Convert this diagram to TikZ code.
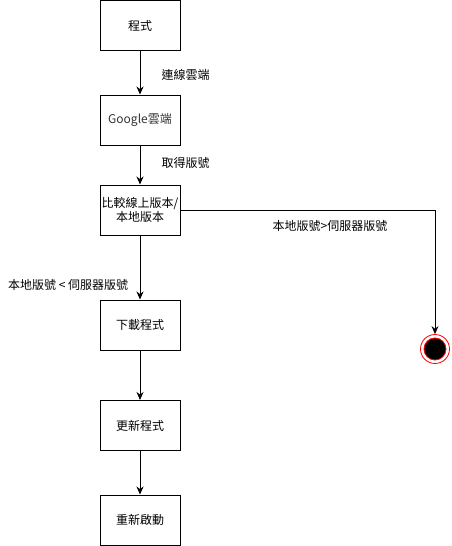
\documentclass[tikz,border=0pt]{standalone}
\usepackage{fontspec}
\newfontfamily\cjk{Noto Sans CJK TC}
\usetikzlibrary{arrows.meta}
\begin{document}
\begin{tikzpicture}[x=1pt,y=-1pt,
  box/.style={draw,line width=1pt,minimum width=80pt,minimum height=50pt,inner sep=0pt,align=center,font=\cjk\fontsize{12}{14}\selectfont},
  lbl/.style={font=\cjk\fontsize{12}{14}\selectfont,inner sep=0pt},
  conn/.style={line width=1pt,-{Stealth[length=8pt,width=7pt]}}]
\useasboundingbox (0,0) rectangle (451,546);
\node[box] (a) at (140,25.5) {程式};
\node[box,text=black!80] (b) at (140,120) {Google雲端};
\node[box] (c) at (140,210) {比較線上版本/\\本地版本};
\node[box] (d) at (140,325) {下載程式};
\node[box] (e) at (140,425.5) {更新程式};
\node[box] (f) at (140,520) {重新啟動};
\node[circle,draw=red,line width=0.8pt,minimum size=29pt,inner sep=0pt] (end) at (435,349) {};
\node[circle,draw=red,fill=black,line width=0.8pt,minimum size=22pt,inner sep=0pt] at (end) {};
\coordinate (corner) at (435,210.5);
\draw[conn] (a) -- (b) node[lbl,pos=0.55,anchor=west,xshift=21pt] {連線雲端};
\draw[conn] (b) -- (c) node[lbl,pos=0.45,anchor=west,xshift=21pt] {取得版號};
\draw[conn] (c) -- (d);
\node[lbl,anchor=west] at (8,285) {本地版號 < 伺服器版號};
\draw[conn] (d) -- (e);
\draw[conn] (e) -- (f);
\draw[conn] (c.east |- corner) -- (corner) -- (end.north);
\node[lbl] at (330,226) {本地版號>伺服器版號};
\end{tikzpicture}
\end{document}
